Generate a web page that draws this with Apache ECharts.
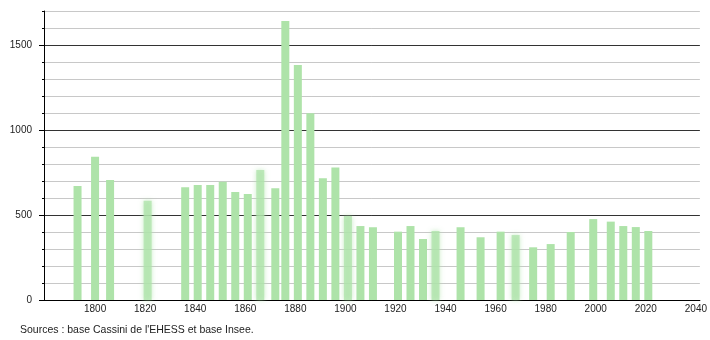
<!DOCTYPE html>
<html>
<head>
<meta charset="utf-8">
<script src="https://cdn.jsdelivr.net/npm/echarts@6/dist/echarts.min.js"></script>
<style>html,body{margin:0;padding:0;background:#fff}#c{width:710px;height:340px}</style>
</head>
<body>
<div id="c"></div>
<script>
const years = [1793,1800,1806,1821,1836,1841,1846,1851,1856,1861,1866,1872,1876,1881,1886,1891,1896,1901,1906,1911,1921,1926,1931,1936,1946,1954,1962,1968,1975,1982,1990,1999,2006,2011,2016,2021];
const population = [670,843,706,584,663,676,676,696,635,623,765,657,1641,1382,1098,716,780,494,435,428,402,435,359,406,428,369,402,382,310,329,400,476,461,435,429,406];
const blurredYears = [1821,1866,1901,1936,1968];
const yMajorTicks = [0,500,1000,1500];
const xTickLabels = [1800,1820,1840,1860,1880,1900,1920,1940,1960,1980,2000,2020,2040];
const sourceText = "Sources : base Cassini de l'EHESS et base Insee.";

const chart = echarts.init(document.getElementById('c'), null, {renderer:'canvas'});
const font = 'Liberation Sans, Arial, sans-serif';
const barColor = '#aee3a9';
chart.setOption({
  animation: false,
  grid: {left: 44, right: 10, top: 11, bottom: 40, containLabel: false},
  xAxis: {
    type: 'value', min: 1779.6, max: 2041.6,
    axisLine: {show: true, lineStyle: {color: '#000', width: 1}},
    axisTick: {show: false},
    splitLine: {show: false},
    axisLabel: {
      fontSize: 10, fontFamily: font, color: '#222', margin: 4,
      customValues: xTickLabels,
      formatter: v => String(Math.round(v))
    }
  },
  yAxis: [{
    type: 'value', min: 0, max: 1700, interval: 100,
    axisLine: {show: true, lineStyle: {color: '#000', width: 1}},
    axisTick: {show: true, length: 2, lineStyle: {color: '#000'}},
    axisLabel: {fontSize: 10, fontFamily: font, color: '#222', margin: 12,
      customValues: yMajorTicks, formatter: v => String(v)},
    splitLine: {show: true, lineStyle: {color: ['#333','#c8c8c8','#c8c8c8','#c8c8c8','#c8c8c8'], width: 1}}
  },{
    type: 'value', min: 0, max: 1700, position: 'left',
    axisLine: {show: false},
    axisTick: {show: true, length: 5, customValues: yMajorTicks, lineStyle: {color: '#000'}},
    axisLabel: {show: false},
    splitLine: {show: false}
  }],
  series: [{
    type: 'bar',
    data: years.map((y, i) => {
      const d = {value: [y, population[i]]};
      if (blurredYears.includes(y)) {
        d.itemStyle = {color: 'rgba(174,227,169,0.75)', shadowBlur: 5, shadowColor: 'rgba(174,227,169,0.9)'};
      }
      return d;
    }),
    barWidth: 8,
    itemStyle: {color: barColor},
    z: 3
  }],
  graphic: [{
    type: 'text', left: 20, top: 325,
    style: {text: sourceText, fontSize: 10.5, fontFamily: font, fill: '#222'}
  }]
});
</script>
</body>
</html>
